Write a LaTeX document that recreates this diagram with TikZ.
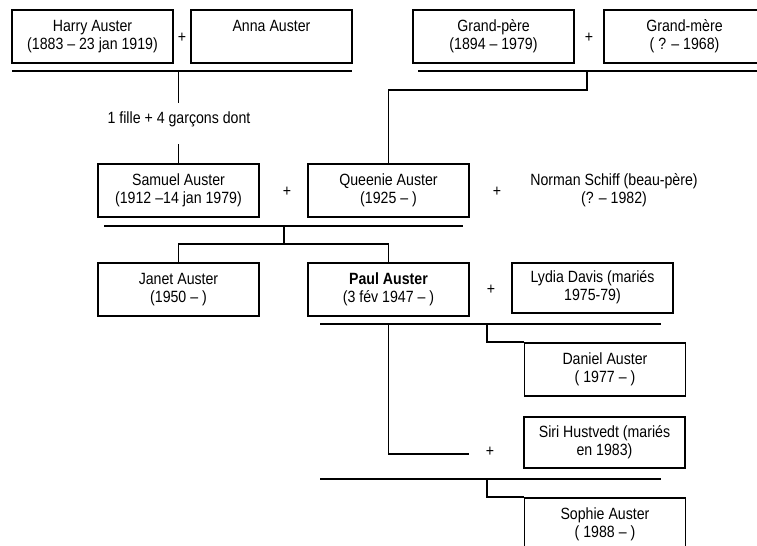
\documentclass[tikz,border=0pt]{standalone}
\usepackage{fontspec}
\setmainfont{Liberation Sans}[FakeStretch=0.87]
\newcommand\twolines[2]{\strut #1\\\strut #2}
\begin{document}
\begin{tikzpicture}[x=0.75pt,y=-0.75pt,
  every node/.style={font=\fontsize{12.2}{13.5}\selectfont, align=center, inner sep=0pt},
  person/.style={draw, line width=1.4pt, minimum width=120.75pt, minimum height=39.75pt},
  link/.style={line width=1.4pt},
  plus/.style={inner sep=0pt}]

\useasboundingbox[fill=white] (0,0) rectangle (757,546);

% --- people ---
\node[person] (harry)   at (92.5,36.5)  {\twolines{Harry Auster}{(1883 – 23 jan 1919)}};
\node[person] (anna)    at (271.5,36.5) {\twolines{Anna Auster}{}};
\node[person] (gp)      at (493.5,36.5) {\twolines{Grand-père}{(1894 – 1979)}};
\node[person] (gm)      at (684.5,36.5) {\twolines{Grand-mère}{( ? – 1968)}};
\node[person] (samuel)  at (178.5,190.5) {\twolines{Samuel Auster}{(1912 –14 jan 1979)}};
\node[person] (queenie) at (388.5,190.5) {\twolines{Queenie Auster}{(1925 – )}};
\node (norman)          at (614,190.5)  {\twolines{Norman Schiff (beau-père)}{(? – 1982)}};
\node[person] (janet)   at (178.5,289.5) {\twolines{Janet Auster}{(1950 – )}};
\node[person] (paul)    at (388.5,289.5) {\bfseries\twolines{Paul Auster}{(3 fév 1947 – )}};
\node[person, minimum height=37.5pt] (lydia) at (592.5,288) {\twolines{Lydia Davis (mariés}{1975-79)}};
\node[person] (daniel)  at (605,369.5)  {\twolines{Daniel Auster}{( 1977 – )}};
\node[person, minimum height=38.25pt] (siri) at (604.5,442.5) {\twolines{Siri Hustvedt (mariés}{en 1983)}};
\node[person] (sophie)  at (605,524.5)  {\twolines{Sophie Auster}{( 1988 – )}};

\node (fille) at (179,119) {1 fille + 4 garçons dont};

% --- marriage signs ---
\node[plus] (p1) at (182,38)  {+};
\node[plus] (p2) at (589,38)  {+};
\node[plus] (p3) at (287,192) {+};
\node[plus] (p4) at (497,192) {+};
\node[plus] (p5) at (491,290) {+};
\node[plus] (p6) at (490,452) {+};

% --- Harry + Anna ---
\coordinate (hL) at (12,71);  \coordinate (hR) at (352,71);
\coordinate (hK) at (178.5,71);
\draw[link] (hL) -- (hR);
\draw[link] (hK) -- ++(0,32);
\draw[link] (samuel.north) -- ++(0,-19);

% --- grandparents ---
\coordinate (gL) at (418,71); \coordinate (gR) at (757,71);
\coordinate (gK) at (587,71);
\draw[link] (gL) -- (gR);
\draw[link] (gK) -- ++(0,19) -| (queenie.north);

% --- Samuel + Queenie ---
\coordinate (sL) at (104,226); \coordinate (sR) at (463,226);
\coordinate (sK) at (284,226);
\draw[link] (sL) -- (sR);
\draw[link] (sK) -- ++(0,18) coordinate (sB);
\draw[link] (janet.north) |- (sB) -| (paul.north);

% --- Paul + Lydia ---
\coordinate (pL) at (320,324); \coordinate (pR) at (661,324);
\coordinate (pK) at (487,324);
\coordinate (pS) at (388.5,324); \coordinate (sE) at (469,454);
\draw[link] (pL) -- (pR);
\draw[link] (pK) |- (daniel.north west);
\draw[link] (pS) |- (sE);

% --- Paul + Siri ---
\coordinate (qL) at (320,479); \coordinate (qR) at (661,479);
\coordinate (qK) at (487,479);
\draw[link] (qL) -- (qR);
\draw[link] (qK) |- (sophie.north west);
\end{tikzpicture}
\end{document}
